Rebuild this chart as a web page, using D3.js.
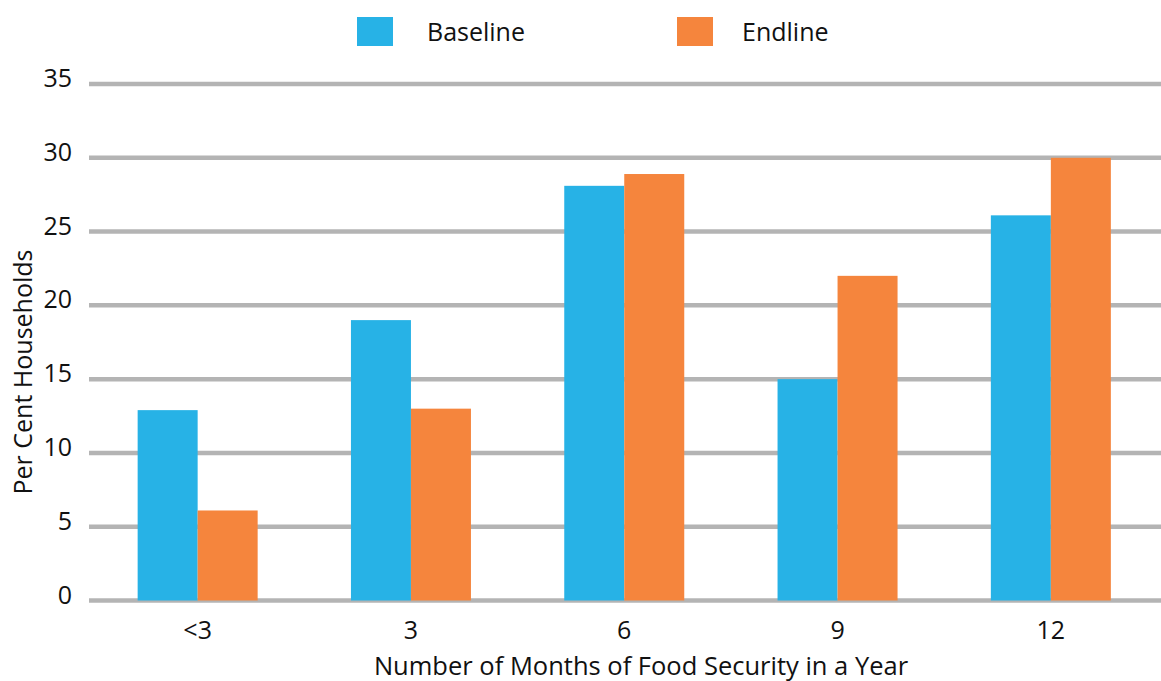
<!DOCTYPE html>
<html><head><meta charset="utf-8">
<script src="https://cdn.jsdelivr.net/npm/d3@7"></script>
<style>body{margin:0;background:#fff}svg{display:block}text{font-family:"Open Sans",sans-serif;fill:#111}</style>
</head><body><svg id="c" width="1161" height="681"></svg>
<script>
const categories = ["<3", "3", "6", "9", "12"];
const seriesNames = ["Baseline", "Endline"];
const baseline = [12.9, 19, 28.1, 15, 26.1];
const endline = [6.1, 13, 28.9, 22, 30];
const yTicks = [0, 5, 10, 15, 20, 25, 30, 35];
const colors = ["#27b2e6", "#f5853d"];

const svg = d3.select("#c");
const x = d3.scaleBand().domain(categories).range([91, 1157.5]).paddingInner(0.4374).paddingOuter(0.2187);
const xs = d3.scaleBand().domain(seriesNames).range([0, x.bandwidth()]);
const y = d3.scaleLinear().domain([0, 35]).range([600.5, 84]);

// gridlines
svg.append("g").selectAll("line").data(yTicks).join("line")
  .attr("x1", 89).attr("x2", 1161)
  .attr("y1", d => y(d)).attr("y2", d => y(d))
  .attr("stroke", "#b4b4b4").attr("stroke-width", 4.5);

// y tick labels
const yAxis = d3.axisLeft(y).tickValues(yTicks).tickSize(0).tickPadding(0);
const ya = svg.append("g").attr("transform", "translate(72,0)").call(yAxis);
ya.select(".domain").remove();
ya.selectAll("text").attr("font-size", 25).attr("font-family", "Open Sans, sans-serif").attr("fill", "#111").attr("dy", "0.1em");

// bars
const data = categories.map((c, i) => ({c, vals: [baseline[i], endline[i]]}));
const grp = svg.append("g").selectAll("g").data(data).join("g")
  .attr("transform", d => `translate(${x(d.c)},0)`);
grp.selectAll("rect").data(d => d.vals.map((v, j) => ({v, s: seriesNames[j], j})))
  .join("rect")
  .attr("x", d => xs(d.s)).attr("width", xs.bandwidth())
  .attr("y", d => y(d.v)).attr("height", d => y(0) - y(d.v))
  .attr("fill", d => colors[d.j]);

// x labels
const xAxis = d3.axisBottom(x).tickSize(0).tickPadding(0);
const xa = svg.append("g").attr("transform", "translate(0,624)").call(xAxis);
xa.select(".domain").remove();
xa.selectAll("text").attr("font-size", 25).attr("font-family", "Open Sans, sans-serif").attr("fill", "#111").attr("dy", "0.6em");

// axis titles
svg.append("text").attr("x", 641).attr("y", 675).attr("text-anchor", "middle")
  .attr("font-size", 25.5).text("Number of Months of Food Security in a Year");
svg.append("text").attr("transform", "translate(32,372) rotate(-90)").attr("text-anchor", "middle")
  .attr("font-size", 25).text("Per Cent Households");

// legend
const legX = [357, 677];
const legTextDx = [70, 65];
const lg = svg.append("g").selectAll("g").data(seriesNames).join("g")
  .attr("transform", (d, i) => `translate(${legX[i]},17)`);
lg.append("rect").attr("width", 36).attr("height", 29).attr("fill", (d, i) => colors[i]);
lg.append("text").attr("x", (d, i) => legTextDx[i]).attr("y", 24).attr("font-size", 25).text(d => d);
</script></body></html>
